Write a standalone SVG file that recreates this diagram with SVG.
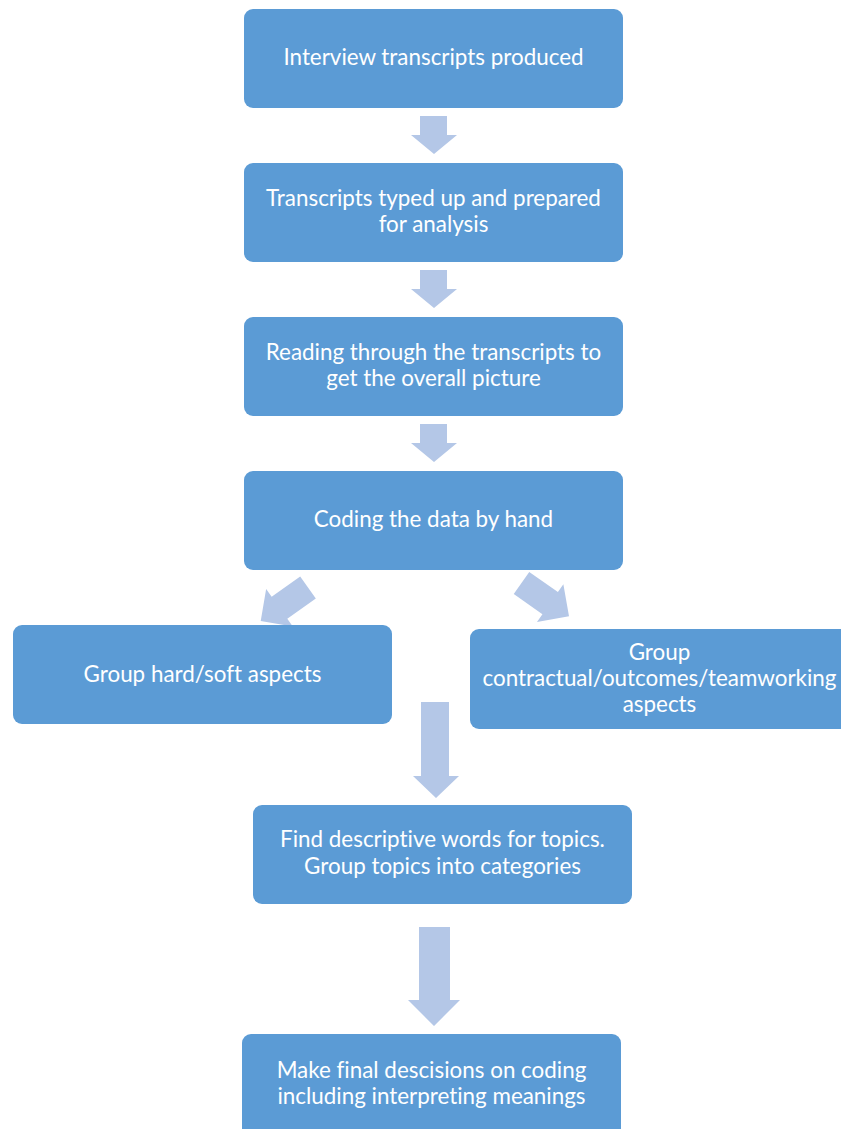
<svg xmlns="http://www.w3.org/2000/svg" width="841" height="1129" viewBox="0 0 841 1129">
  <style>
    .box { fill: #5B9BD5; }
    .arrow { fill: #B4C7E7; }
    .label { font-family: "Lato", "Liberation Sans", sans-serif; font-size: 22.4px; fill: #FFFFFF; text-anchor: middle; font-variant-ligatures: none; }
  </style>
  <defs>
    <!-- short block arrow pointing down, origin at top centre of shaft -->
    <polygon id="arrow-short" points="-13.5,0 13.5,0 13.5,35 23,35 0,58 -23,35 -13.5,35"/>
  </defs>
  <rect width="841" height="1129" fill="#FFFFFF"/>

  <g id="connectors" class="arrow">
    <polygon points="420,116 447,116 447,135 457,135 434,154 411,135 420,135"/>
    <polygon points="420,270 447,270 447,289 457,289 434,308 411,289 420,289"/>
    <polygon points="420,424 447,424 447,443 457,443 434,462 411,443 420,443"/>
    <use href="#arrow-short" transform="translate(308,587.5) rotate(54.6)"/>
    <use href="#arrow-short" transform="translate(521.5,583) rotate(-55)"/>
    <polygon points="421,702 449,702 449,776 459,776 436,798 413,776 421,776"/>
    <polygon points="419,927 450,927 450,1000 460,1000 434,1026 408,1000 419,1000"/>
  </g>

  <g id="node-transcripts-produced">
    <rect class="box" x="244" y="9" width="379" height="99" rx="9"/>
    <text class="label" x="433.5" y="65">Interview transcripts produced</text>
  </g>

  <g id="node-typed-up">
    <rect class="box" x="244" y="163" width="379" height="99" rx="9"/>
    <text class="label" x="433.5" y="206">Transcripts typed up and prepared</text>
    <text class="label" x="433.5" y="232">for analysis</text>
  </g>

  <g id="node-reading">
    <rect class="box" x="244" y="317" width="379" height="99" rx="9"/>
    <text class="label" x="433.5" y="360">Reading through the transcripts to</text>
    <text class="label" x="433.5" y="386">get the overall picture</text>
  </g>

  <g id="node-coding">
    <rect class="box" x="244" y="471" width="379" height="99" rx="9"/>
    <text class="label" x="433.5" y="527">Coding the data by hand</text>
  </g>

  <g id="node-hard-soft">
    <rect class="box" x="13" y="625" width="379" height="99" rx="9"/>
    <text class="label" x="202.5" y="682">Group hard/soft aspects</text>
  </g>

  <g id="node-contractual">
    <rect class="box" x="470" y="629" width="379" height="100" rx="9"/>
    <text class="label" x="659.5" y="660">Group</text>
    <text class="label" x="659.5" y="686">contractual/outcomes/teamworking</text>
    <text class="label" x="659.5" y="712">aspects</text>
  </g>

  <g id="node-descriptive-words">
    <rect class="box" x="253" y="805" width="379" height="99" rx="9"/>
    <text class="label" x="442.5" y="847">Find descriptive words for topics.</text>
    <text class="label" x="442.5" y="874">Group topics into categories</text>
  </g>

  <g id="node-final-decisions">
    <rect class="box" x="242" y="1034" width="379" height="110" rx="9"/>
    <text class="label" x="431.5" y="1078">Make final descisions on coding</text>
    <text class="label" x="431.5" y="1104">including interpreting meanings</text>
  </g>
</svg>
